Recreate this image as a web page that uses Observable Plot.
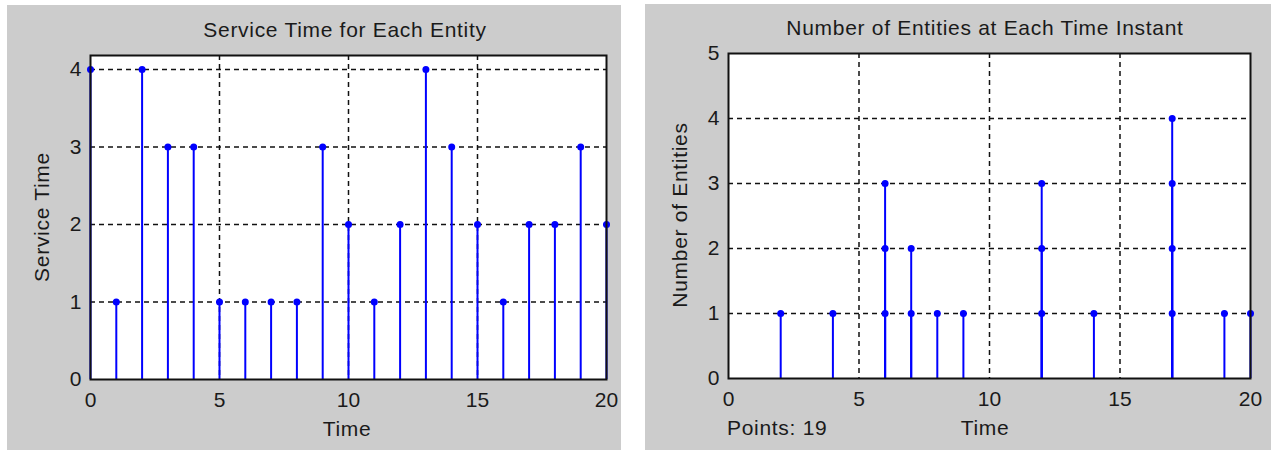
<!DOCTYPE html>
<html>
<head>
<meta charset="utf-8">
<script src="https://cdn.jsdelivr.net/npm/d3@7"></script>
<script src="https://cdn.jsdelivr.net/npm/@observablehq/plot@0.6"></script>
<style>
  body { margin: 0; background: #ffffff; font-family: Arial, "Liberation Sans", sans-serif; }
  #wrap { position: relative; width: 1278px; height: 450px; overflow: hidden; background: #fff; }
  .panel { position: absolute; background: #cccccc; }
  .lbl { position: absolute; font-size: 21px; letter-spacing: 0.7px; color: #1a1a1a; white-space: nowrap; transform: translate(-50%, -50%); z-index: 2; }
  .ylbl { position: absolute; font-size: 21px; letter-spacing: 0.7px; color: #1a1a1a; white-space: nowrap; transform: translate(-50%, -50%) rotate(-90deg); z-index: 2; }
  .note { position: absolute; font-size: 21px; letter-spacing: 0.7px; color: #1a1a1a; white-space: nowrap; transform: translate(0, -50%); z-index: 2; }
  svg { position: absolute; left: 0; top: 0; }
</style>
</head>
<body>
<div id="wrap">
  <div class="panel" id="p1" style="left:7px;top:5px;width:614px;height:445px;">
    <div class="lbl" style="left:338px;top:25px;">Service Time for Each Entity</div>
    <div class="lbl" style="left:340px;top:424px;">Time</div>
    <div class="ylbl" style="left:35px;top:212px;">Service Time</div>
  </div>
  <div class="panel" id="p2" style="left:645px;top:4px;width:626px;height:446px;">
    <div class="lbl" style="left:340px;top:24px;">Number of Entities at Each Time Instant</div>
    <div class="lbl" style="left:340px;top:424px;">Time</div>
    <div class="ylbl" style="left:35px;top:211px;">Number of Entities</div>
    <div class="note" style="left:82px;top:424px;">Points: 19</div>
  </div>
</div>
<script>
// Left chart: service time for each entity
const serviceTimes = [0,1,2,3,4,5,6,7,8,9,10,11,12,13,14,15,16,17,18,19,20];
const serviceValues = [4,1,4,3,3,1,1,1,1,3,2,1,2,4,3,2,1,2,2,3,2];

// Right chart: number of entities at each time instant
const entityTimes  = [2,4,6,6,6,7,7,8,9,12,12,12,14,17,17,17,17,19,20];
const entityCounts = [1,1,1,2,3,1,2,1,1,1,2,3,1,1,2,3,4,1,1];

const xTicks = [0,5,10,15,20];
const xGrid = [5,10,15];
const yTicksLeft = [0,1,2,3,4];
const yGridLeft = [1,2,3,4];
const yTicksRight = [0,1,2,3,4,5];
const yGridRight = [1,2,3,4];

function stemChart({times, values, yDomain, yTicks, yGrid, width, height, margins}) {
  const data = times.map((t, i) => ({t, v: values[i]}));
  return Plot.plot({
    width, height,
    marginLeft: margins[0], marginTop: margins[1], marginRight: margins[2], marginBottom: margins[3],
    style: {background: "transparent", fontSize: "21px", fontFamily: "Arial, 'Liberation Sans', sans-serif", color: "#1a1a1a"},
    x: {domain: [0, 20], ticks: xTicks, tickFormat: d3.format("d"), tickSize: 0, tickPadding: 13, label: null},
    y: {domain: yDomain, ticks: yTicks, tickFormat: d3.format("d"), tickSize: 0, tickPadding: 9, label: null},
    marks: [
      Plot.frame({fill: "white", stroke: null}),
      Plot.ruleX(xGrid, {x: d => d, stroke: "#111", strokeWidth: 1.5, strokeDasharray: "5,4"}),
      Plot.ruleY(yGrid, {y: d => d, stroke: "#111", strokeWidth: 1.5, strokeDasharray: "5,4"}),
      Plot.ruleX(data, {x: "t", y1: 0, y2: "v", stroke: "#0000ff", strokeWidth: 2}),
      Plot.dot(data, {x: "t", y: "v", r: 3.5, fill: "#0000ff", stroke: null}),
      Plot.frame({stroke: "#111", strokeWidth: 2})
    ]
  });
}

const c1 = stemChart({
  times: serviceTimes, values: serviceValues, yDomain: [0, 4.18], yTicks: yTicksLeft, yGrid: yGridLeft,
  width: 614, height: 445, margins: [83, 50, 15, 71]
});
document.getElementById("p1").appendChild(c1);

const c2 = stemChart({
  times: entityTimes, values: entityCounts, yDomain: [0, 5], yTicks: yTicksRight, yGrid: yGridRight,
  width: 626, height: 446, margins: [83, 49, 21, 72]
});
document.getElementById("p2").appendChild(c2);
</script>
</body>
</html>
